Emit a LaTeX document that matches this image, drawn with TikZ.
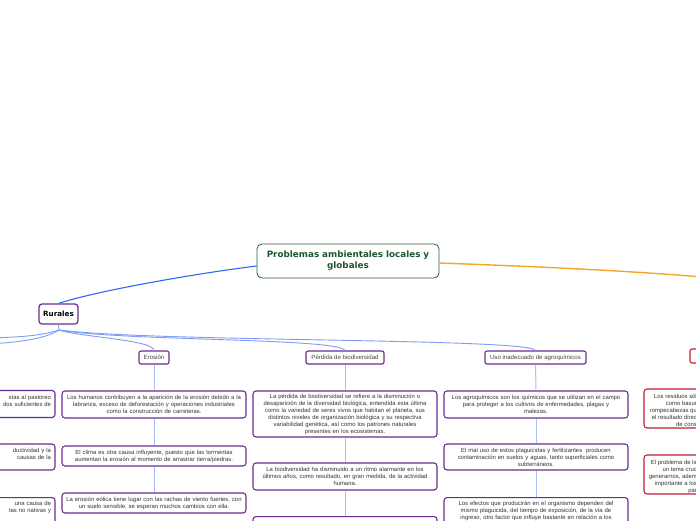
\documentclass[tikz,border=0pt]{standalone}
\usepackage{fontspec}
\newfontfamily\lsans{Liberation Sans}
\newfontfamily\dvs{DejaVu Sans}
\definecolor{pur}{HTML}{6A2C91}
\definecolor{redb}{HTML}{C41E3A}
\definecolor{cgreen}{HTML}{2B5B3C}
\definecolor{ctext}{HTML}{1D5631}
\definecolor{txt}{HTML}{333333}
\definecolor{cattxt}{HTML}{444444}
\definecolor{mainblue}{HTML}{2F6BF2}
\definecolor{fanblue}{HTML}{7D9DF5}
\definecolor{vblue}{HTML}{A9BFF7}
\definecolor{orng}{HTML}{F5A623}
\tikzset{
  leaffont/.style={font=\lsans\fontsize{5.9}{7.0}\selectfont},
  leaf/.style={draw=pur, line width=1.1pt, rounded corners=3pt, fill=white, align=center,
    text=txt, leaffont, inner xsep=1pt, inner ysep=0pt, text width=182pt, minimum width=184pt},
  redleaf/.style={leaf, draw=redb},
  sideleaf/.style={leaf, align=right, text width=107pt, minimum width=115pt, inner xsep=4pt},
  cat/.style={draw=pur, line width=1.1pt, rounded corners=2pt, fill=white,
    font=\lsans\fontsize{6.1}{7}\selectfont, text=cattxt, inner sep=0pt, minimum height=13pt},
  central/.style={draw=cgreen, line width=0.8pt, rounded corners=5pt, fill=white, align=center,
    text=ctext, font=\dvs\bfseries\fontsize{8.8}{11}\selectfont, text width=178pt,
    minimum width=182pt, minimum height=34pt, inner sep=0pt},
  rural/.style={draw=pur, line width=1.2pt, rounded corners=3pt, fill=white,
    font=\dvs\bfseries\fontsize{7.2}{8}\selectfont, text=black, minimum width=39pt,
    minimum height=20pt, inner sep=0pt},
  mainline/.style={draw=mainblue, line width=1.1pt},
  orline/.style={draw=orng, line width=1.4pt},
  fanline/.style={draw=fanblue, line width=0.9pt},
  vline/.style={draw=vblue, line width=1pt},
  frag/.style={align=right, text=txt, leaffont, inner sep=0pt}
}
\begin{document}
\begin{tikzpicture}[x=1pt,y=-1pt]
\useasboundingbox (0,0) rectangle (696,520);
\fill[white] (0,0) rectangle (696,520);
\clip (0,0) rectangle (696,520);

% free ends
\coordinate (oend) at (702,277);
\coordinate (rs) at (59,330);
\coordinate (lend1) at (-10,338);
\coordinate (lend2) at (-10,344);

\node[central] (c) at (348,261) {Problemas ambientales locales y\\globales};
\node[rural] (r) at (58.5,314) {Rurales};

\node[cat, minimum width=30pt] (ero) at (154,357.5) {Erosión};
\node[cat, minimum width=78pt] (per) at (345,357.5) {Pérdida de biodiversidad};
\node[cat, minimum width=101pt] (uso) at (535.5,357.5) {Uso inadecuado de agroquímicos};
\node[cat, draw=redb, minimum width=50pt, minimum height=14pt] (rcat) at (715,356) {};

\draw[mainline] ([yshift=-5pt]c.west) .. controls (200,273) and (100,290) .. (r.north);
\draw[orline] ([yshift=-2pt]c.east) .. controls (520,266) and (620,270) .. (oend);

\draw[fanline] (r.south) -- (rs);
\draw[fanline] (rs) .. controls (40,336) and (20,337) .. (lend1);
\draw[fanline] (rs) .. controls (45,339) and (20,342) .. (lend2);
\draw[fanline] (rs) .. controls (80,337) and (154,340) .. (ero.north);
\draw[fanline] (rs) .. controls (120,341) and (340,338) .. (per.north);
\draw[fanline] (rs) .. controls (150,342) and (530,338) .. (uso.north);

% Erosion column
\node[leaf, minimum height=27pt] (e1) at (154,404.5) {Los humanos contribuyen a la aparición de la erosión debido a la\\labranza, exceso de deforestación y operaciones industriales\\como la construcción de carreteras.};
\node[leaf, minimum height=20pt] (e2) at (154,456) {El clima es otra causa influyente, puesto que las tormentas\\aumentan la erosión al momento de arrastrar tierra/piedras.};
\node[leaf, minimum height=20pt] (e3) at (154,503) {La erosión eólica tiene lugar con las rachas de viento fuertes, con\\un suelo sensible, se esperan muchos cambios con ella.};

% Perdida column
\node[leaf, minimum height=46pt] (p1) at (345,414) {La pérdida de biodiversidad se refiere a la disminución o\\desaparición de la diversidad biológica, entendida esta última\\como la variedad de seres vivos que habitan el planeta, sus\\distintos niveles de organización biológica y su respectiva\\variabilidad genética, así como los patrones naturales\\presentes en los ecosistemas.};
\node[leaf, minimum height=27pt] (p2) at (345,476.5) {La biodiversidad ha disminuido a un ritmo alarmante en los\\últimos años, como resultado, en gran medida, de la actividad\\humana.};
\node[leaf, minimum height=30pt, anchor=north] (p3) at (345,516) {};

% Uso column
\node[leaf, minimum height=27pt] (u1) at (536,404.5) {Los agroquímicos son los químicos que se utilizan en el campo\\para proteger a los cultivos de enfermedades, plagas y\\malezas.};
\node[leaf, minimum height=26pt] (u2) at (536,457) {El mal uso de estos plaguicidas y fertilizantes\ \ producen\\contaminación en suelos y aguas, tanto superficiales como\\subterráneos.};
\node[leaf, anchor=north, inner ysep=4pt] (u3) at (536,497) {Los efectos que producirán en el organismo dependen del\\mismo plaguicida, del tiempo de exposición, de la vía de\\ingreso, otro factor que influye bastante en relación a los\\\mbox{}};

% vertical connectors
\draw[vline] (ero.south) -- (e1.north);
\draw[vline] (e1.south) -- (e2.north);
\draw[vline] (e2.south) -- (e3.north);
\draw[vline] (per.south) -- (p1.north);
\draw[vline] (p1.south) -- (p2.north);
\draw[vline] (p2.south) -- (p3.north);
\draw[vline] (uso.south) -- (u1.north);
\draw[vline] (u1.south) -- (u2.north);
\draw[vline] (u2.south) -- (u3.north);

% left partial column
\node[sideleaf, minimum height=27pt] (l1) at (-2.5,404) {stas al pastoreo\\dos suficientes de\\\mbox{}};
\node[sideleaf, minimum height=26pt] (l2) at (-2.5,457) {ductividad y la\\causas de la\\\mbox{}};
\node[sideleaf, anchor=north, inner ysep=4pt] (l3) at (-2.5,497) {una causa de\\tas no nativas y\\\mbox{}};

% right partial column (red)
\node[redleaf, minimum height=39pt] (rb1) at (736,408.5) {};
\node[redleaf, minimum height=39pt] (rb2) at (736,474.5) {};
\node[frag, anchor=east] (rt1) at (697,410.5) {Los residuos sól\\como basur\\rompecabezas qu\\el resultado direc\\de cons};
\node[frag, anchor=east] (rt2) at (697,476.5) {El problema de la\\un tema cruc\\generarnos, adem\\importante a los\\par};
\end{tikzpicture}
\end{document}
